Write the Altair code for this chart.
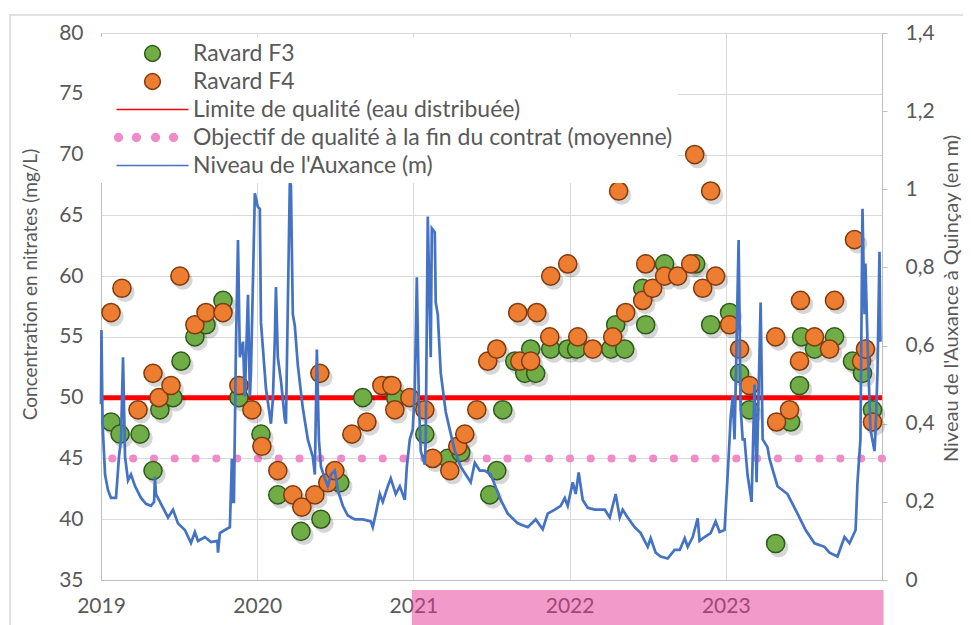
import altair as alt
import pandas as pd

FONT = "Lato"
GREY = "#595959"

SERIES = [
    "Ravard F3",
    "Ravard F4",
    "Limite de qualité (eau distribuée)",
    "Objectif de qualité à la fin du contrat (moyenne)",
    "Niveau de l'Auxance (m)",
]

# --- Ravard F3 (mg/L) ---
f3_annee = [2019.064, 2019.122, 2019.250, 2019.333, 2019.377, 2019.461, 2019.512, 2019.601,
            2019.672, 2019.781, 2019.883, 2020.024, 2020.132, 2020.280, 2020.408, 2020.529,
            2020.676, 2020.849, 2020.887, 2021.073, 2021.220, 2021.303, 2021.489, 2021.534,
            2021.572, 2021.649, 2021.713, 2021.751, 2021.783, 2021.879, 2021.988, 2022.045,
            2022.263, 2022.295, 2022.353, 2022.468, 2022.487, 2022.608, 2022.807, 2022.903,
            2023.024, 2023.088, 2023.152, 2023.319, 2023.415, 2023.472, 2023.485, 2023.568,
            2023.696, 2023.811, 2023.875, 2023.939]
f3_nitrates = [48, 47, 47, 44, 49, 50, 53, 55,
               56, 58, 50, 47, 42, 39, 40, 43,
               50, 51, 50, 47, 45, 45.5, 42, 44,
               49, 53, 52, 54, 52, 54, 54, 54,
               54, 56, 54, 59, 56, 61, 61, 56,
               57, 52, 49, 38, 48, 51, 55, 54,
               55, 53, 52, 49]

# --- Ravard F4 (mg/L) ---
f4_annee = [2019.064, 2019.134, 2019.237, 2019.333, 2019.371, 2019.448, 2019.505, 2019.601,
            2019.672, 2019.781, 2019.883, 2019.966, 2020.030, 2020.132, 2020.228, 2020.286,
            2020.369, 2020.401, 2020.452, 2020.497, 2020.606, 2020.702, 2020.798, 2020.862,
            2020.881, 2020.977, 2021.073, 2021.124, 2021.233, 2021.284, 2021.329, 2021.406,
            2021.476, 2021.534, 2021.668, 2021.681, 2021.751, 2021.790, 2021.873, 2021.879,
            2021.988, 2022.052, 2022.148, 2022.276, 2022.314, 2022.359, 2022.468, 2022.487,
            2022.532, 2022.608, 2022.692, 2022.775, 2022.801, 2022.852, 2022.903, 2022.935,
            2023.024, 2023.088, 2023.152, 2023.319, 2023.325, 2023.408, 2023.472, 2023.478,
            2023.568, 2023.664, 2023.696, 2023.824, 2023.869, 2023.894, 2023.939]
f4_nitrates = [57, 59, 49, 52, 50, 51, 60, 56,
               57, 57, 51, 49, 46, 44, 42, 41,
               42, 52, 43, 44, 47, 48, 51, 51,
               49, 50, 49, 45, 44, 46, 47, 49,
               53, 54, 57, 53, 53, 57, 55, 60,
               61, 55, 54, 55, 67, 57, 58, 61,
               59, 60, 60, 61, 70, 59, 67, 60,
               56, 54, 51, 55, 48, 49, 53, 58,
               55, 54, 58, 63, 53, 54, 48]

# --- Niveau de l'Auxance à Quinçay (m) ---
niveau_annee = [
    2019.000, 2019.003, 2019.010, 2019.026, 2019.045, 2019.064, 2019.096, 2019.115, 2019.128,
    2019.141, 2019.154, 2019.173, 2019.192, 2019.218, 2019.256, 2019.288, 2019.320, 2019.340,
    2019.345, 2019.352, 2019.384, 2019.429, 2019.461, 2019.493, 2019.537, 2019.576, 2019.601,
    2019.621, 2019.665, 2019.704, 2019.745, 2019.749, 2019.761, 2019.793, 2019.825, 2019.838,
    2019.845, 2019.851, 2019.864, 2019.877, 2019.889, 2019.909, 2019.921, 2019.941, 2019.953,
    2019.960, 2019.985, 2020.004, 2020.017, 2020.024, 2020.056, 2020.088, 2020.100, 2020.113,
    2020.120, 2020.132, 2020.152, 2020.177, 2020.184, 2020.196, 2020.209, 2020.216, 2020.228,
    2020.241, 2020.260, 2020.292, 2020.324, 2020.356, 2020.369, 2020.382, 2020.395, 2020.408,
    2020.433, 2020.452, 2020.472, 2020.497, 2020.516, 2020.548, 2020.580, 2020.625, 2020.676,
    2020.727, 2020.740, 2020.759, 2020.785, 2020.804, 2020.836, 2020.855, 2020.887, 2020.913,
    2020.945, 2020.958, 2020.977, 2020.996, 2021.009, 2021.022, 2021.035, 2021.047, 2021.073,
    2021.079, 2021.092, 2021.111, 2021.118, 2021.137, 2021.143, 2021.156, 2021.175, 2021.207,
    2021.233, 2021.265, 2021.303, 2021.335, 2021.367, 2021.393, 2021.425, 2021.457, 2021.495,
    2021.559, 2021.604, 2021.668, 2021.732, 2021.783, 2021.828, 2021.860, 2021.905, 2021.943,
    2021.969, 2021.988, 2022.020, 2022.039, 2022.058, 2022.084, 2022.116, 2022.161, 2022.225,
    2022.257, 2022.295, 2022.321, 2022.340, 2022.372, 2022.417, 2022.455, 2022.500, 2022.519,
    2022.551, 2022.583, 2022.628, 2022.672, 2022.705, 2022.737, 2022.756, 2022.788, 2022.820,
    2022.832, 2022.864, 2022.903, 2022.935, 2022.960, 2022.992, 2023.012, 2023.024, 2023.031,
    2023.044, 2023.056, 2023.063, 2023.082, 2023.095, 2023.108, 2023.120, 2023.139, 2023.165,
    2023.184, 2023.197, 2023.223, 2023.236, 2023.267, 2023.280, 2023.331, 2023.395, 2023.459,
    2023.511, 2023.568, 2023.632, 2023.664, 2023.715, 2023.760, 2023.792, 2023.831, 2023.843,
    2023.862, 2023.875, 2023.888, 2023.894, 2023.907, 2023.926, 2023.952, 2023.958, 2023.971,
    2023.984, 2023.990]
niveau_m = [
    0.45, 0.64, 0.40, 0.27, 0.23, 0.21, 0.21, 0.315, 0.36,
    0.57, 0.315, 0.255, 0.27, 0.24, 0.21, 0.195, 0.19, 0.20,
    0.265, 0.22, 0.195, 0.16, 0.18, 0.145, 0.128, 0.095, 0.123,
    0.10, 0.11, 0.097, 0.10, 0.07, 0.12, 0.128, 0.135, 0.31,
    0.20, 0.20, 0.60, 0.87, 0.57, 0.61, 0.47, 0.73, 0.47,
    0.53, 0.99, 0.955, 0.95, 0.66, 0.49, 0.40, 0.46, 0.62,
    0.75, 0.57, 0.51, 0.41, 0.40, 0.70, 1.02, 1.01, 0.68,
    0.65, 0.55, 0.44, 0.36, 0.315, 0.27, 0.59, 0.36, 0.29,
    0.26, 0.24, 0.27, 0.28, 0.23, 0.19, 0.165, 0.155, 0.155,
    0.15, 0.135, 0.17, 0.22, 0.20, 0.24, 0.26, 0.22, 0.24,
    0.205, 0.29, 0.36, 0.385, 0.49, 0.775, 0.46, 0.33, 0.295,
    0.36, 0.93, 0.57, 0.90, 0.89, 0.71, 0.68, 0.53, 0.43,
    0.385, 0.33, 0.29, 0.27, 0.25, 0.30, 0.28, 0.28, 0.27,
    0.205, 0.17, 0.145, 0.135, 0.155, 0.13, 0.17, 0.18, 0.19,
    0.21, 0.19, 0.25, 0.22, 0.275, 0.205, 0.185, 0.18, 0.18,
    0.16, 0.22, 0.16, 0.18, 0.16, 0.135, 0.12, 0.085, 0.107,
    0.07, 0.06, 0.055, 0.077, 0.077, 0.107, 0.085, 0.11, 0.158,
    0.10, 0.11, 0.12, 0.15, 0.123, 0.128, 0.27, 0.36, 0.415,
    0.47, 0.36, 0.49, 0.87, 0.44, 0.36, 0.36, 0.27, 0.20,
    0.50, 0.25, 0.71, 0.36, 0.34, 0.31, 0.24, 0.22, 0.17,
    0.128, 0.094, 0.085, 0.07, 0.06, 0.11, 0.094, 0.128, 0.25,
    0.36, 0.95, 0.68, 0.81, 0.61, 0.385, 0.33, 0.375, 0.53,
    0.84, 0.61]

limite_qualite = [50]
objectif_qualite = [45]
annees_axe = [2019, 2020, 2021, 2022, 2023]
periode_debut = [2020.99]
periode_fin = [2024.01]

# ---------------------------------------------------------------
pts = pd.concat([
    pd.DataFrame({"annee": f3_annee, "nitrates": f3_nitrates, "serie": SERIES[0]}),
    pd.DataFrame({"annee": f4_annee, "nitrates": f4_nitrates, "serie": SERIES[1]}),
], ignore_index=True)
niv = pd.DataFrame({"annee": niveau_annee, "niveau": niveau_m})
lim = pd.DataFrame({"nitrates": limite_qualite})
obj = pd.DataFrame({"nitrates": objectif_qualite})
per = pd.DataFrame({"debut": periode_debut, "fin": periode_fin})

W, H = 781, 547

xscale = alt.Scale(domain=[2019, 2024], nice=False, zero=False)
xaxis = alt.Axis(orient="bottom", values=annees_axe, format="d", title=None, grid=True,
                 gridColor="#D9D9D9", domainColor="#BFBFBF", ticks=False, labelFont=FONT,
                 labelFontSize=21, labelColor=GREY, labelPadding=15, labelFlush=False,
                 labelOverlap=False, zindex=0)
yscale = alt.Scale(domain=[35, 80], nice=False, zero=False)
yaxis = alt.Axis(orient="left", values=list(range(35, 81, 5)),
                 title="Concentration en nitrates (mg/L)",
                 grid=True, gridColor="#D9D9D9", domainColor="#BFBFBF", ticks=False,
                 labelFont=FONT, labelFontSize=21, labelColor=GREY, labelPadding=18,
                 labelFlush=False, labelOverlap=False,
                 titleFont=FONT, titleFontSize=19, titleFontWeight="normal", titleColor=GREY,
                 titleAngle=270, titleX=-71, titleY=251, titleBaseline="middle", zindex=0)

X = alt.X("annee:Q", scale=xscale, axis=xaxis)
Y = alt.Y("nitrates:Q", scale=yscale, axis=yaxis)

# legend symbol shapes (unit = half the symbol size)
LINE_PATH = "M-4.55,0H4.55"
DOTS_PATH = "".join(
    f"M{c - 0.5:.2f},0a0.5,0.5 0 1,0 1,0a0.5,0.5 0 1,0 -1,0" for c in (-4.3, -2.03, 0.38, 2.66)
)

legend = alt.Legend(
    title=None, orient="none", legendX=0, legendY=4, direction="vertical",
    fillColor="white", padding=5, symbolSize=250, symbolOffset=35, labelOffset=29,
    labelFont=FONT, labelFontSize=23, labelColor=GREY, labelLimit=700, rowPadding=4,
    symbolOpacity=1,
)

color = alt.Color("serie:N", scale=alt.Scale(domain=SERIES, range=["#70AD47", "#ED7D31", "#FF0000", "#F08BC8", "#4472C4"]), legend=legend)
stroke = alt.Stroke("serie:N", scale=alt.Scale(domain=SERIES, range=["#2E5A1C", "#7F3A0E", "#FF0000", "#F08BC8", "#4472C4"]), legend=legend)
swidth = alt.StrokeWidth("serie:N", scale=alt.Scale(domain=SERIES, range=[1.5, 1.5, 5, 0, 2.5]), legend=legend)
shape = alt.Shape("serie:N", scale=alt.Scale(domain=SERIES, range=["circle", "circle", LINE_PATH, DOTS_PATH, LINE_PATH]), legend=legend)

cadre = alt.Chart(pd.DataFrame({"c": [1]})).mark_rect(
    fill="white", fillOpacity=0, stroke="#D9D9D9", strokeWidth=1.5, clip=False
).encode(x=alt.value(-91), x2=alt.value(885), y=alt.value(-18), y2=alt.value(H + 80))

ombres = alt.Chart(pts).mark_circle(color="black", opacity=0.16, size=380, xOffset=3, yOffset=4).encode(x=X, y=Y)

ligne_limite = alt.Chart(lim).mark_rule(color="#FF0000", strokeWidth=5).encode(y=Y)
ligne_objectif = alt.Chart(obj).mark_rule(color="#F08BC8", strokeWidth=8, strokeDash=[0.1, 20.7], strokeCap="round").encode(y=Y)

points = alt.Chart(pts).mark_point(filled=True, size=330, opacity=1).encode(
    x=X, y=Y, color=color, shape=shape, stroke=stroke, strokeWidth=swidth,
)

surlignage = alt.Chart(per).mark_rect(color="#E53593", opacity=0.5, clip=False).encode(
    x=alt.X("debut:Q", scale=xscale, axis=xaxis), x2="fin:Q",
    y=alt.value(H + 10), y2=alt.value(H + 50),
)

gauche = alt.layer(cadre, ligne_objectif, ligne_limite, ombres, points, surlignage)

niveau = alt.Chart(niv).mark_line(color="#4472C4", strokeWidth=2.7).encode(
    x=X,
    y=alt.Y("niveau:Q", scale=alt.Scale(domain=[0, 1.4], nice=False, zero=True),
            axis=alt.Axis(orient="right", values=[0, 0.2, 0.4, 0.6, 0.8, 1.0, 1.2, 1.4],
                          labelExpr="replace(format(datum.value, '.1~f'), '.', ',')",
                          title="Niveau de l'Auxance à Quinçay (en m)", grid=False,
                          domainColor="#BFBFBF", tickColor="#BFBFBF", tickSize=5,
                          labelFont=FONT, labelFontSize=21, labelColor=GREY, labelPadding=18,
                          labelFlush=False, labelOverlap=False,
                          titleFont=FONT, titleFontSize=20, titleFontWeight="normal",
                          titleColor=GREY, titleAngle=270, titleX=69, titleY=265,
                          titleBaseline="middle", zindex=0)),
)

chart = alt.layer(gauche, niveau).resolve_scale(y="independent").properties(
    width=W, height=H, autosize="none",
    padding={"left": 93, "top": 25, "right": 81, "bottom": 50},
    background="white",
).configure_view(stroke=None).configure(font=FONT)

chart.save("out.html", embed_options={"renderer": "svg", "actions": False})
